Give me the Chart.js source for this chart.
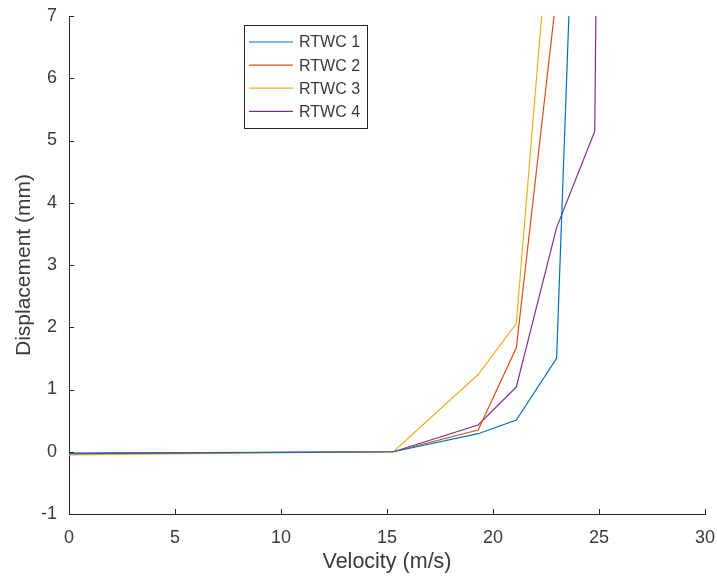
<!DOCTYPE html>
<html>
<head>
<meta charset="utf-8">
<script src="https://cdn.jsdelivr.net/npm/chart.js@4/dist/chart.umd.min.js"></script>
<style>
  html, body { margin: 0; padding: 0; background: #ffffff; }
  canvas { display: block; }
</style>
</head>
<body>
<canvas id="c" width="717" height="580"></canvas>
<script>
// ---- data ----
const seriesNames = ["RTWC 1", "RTWC 2", "RTWC 3", "RTWC 4"];
const seriesColors = ["#0072BD", "#D95319", "#EDB120", "#7E2F8E"];

const velocity1 = [0, 15.3, 19.3, 21.1, 23.0, 24.8];
const displacement1 = [-0.03, 0, 0.29, 0.51, 1.5, 18.6];

const velocity2 = [0, 15.3, 19.3, 21.1, 23.0];
const displacement2 = [-0.03, 0, 0.35, 1.67, 7.36];

const velocity3 = [0, 15.3, 19.3, 21.1, 23.0];
const displacement3 = [-0.05, 0, 1.24, 2.06, 9.93];

const velocity4 = [0, 15.3, 19.3, 21.1, 23.0, 24.8, 24.99];
const displacement4 = [-0.02, 0, 0.43, 1.04, 3.6, 5.15, 12];

const xTicks = [0, 5, 10, 15, 20, 25, 30];
const yTicks = [-1, 0, 1, 2, 3, 4, 5, 6, 7];
const xTitle = "Velocity (m/s)";
const yTitle = "Displacement (mm)";

// ---- build datasets ----
const vels = [velocity1, velocity2, velocity3, velocity4];
const disps = [displacement1, displacement2, displacement3, displacement4];
const datasets = seriesNames.map((name, i) => ({
  label: name,
  data: vels[i].map((v, j) => ({ x: v, y: disps[i][j] })),
  borderColor: seriesColors[i],
  backgroundColor: seriesColors[i],
  borderWidth: 1.2,
  pointRadius: 0,
  tension: 0,
  fill: false
}));

const AXIS_COLOR = "#262626";
const TEXT_COLOR = "#3a3a3a";
const FONT = "'Liberation Sans', Arial, Helvetica, sans-serif";

// inward tick marks (MATLAB style)
const inwardTicks = {
  id: "inwardTicks",
  afterDatasetsDraw(chart) {
    const ctx = chart.ctx;
    const xs = chart.scales.x, ys = chart.scales.y;
    const area = chart.chartArea;
    ctx.save();
    ctx.strokeStyle = AXIS_COLOR;
    ctx.lineWidth = 1;
    ctx.beginPath();
    xTicks.forEach(v => {
      const px = Math.round(xs.getPixelForValue(v)) + 0.5;
      ctx.moveTo(px, area.bottom);
      ctx.lineTo(px, area.bottom - 5);
    });
    yTicks.forEach(v => {
      const py = Math.round(ys.getPixelForValue(v)) + 0.5;
      ctx.moveTo(area.left, py);
      ctx.lineTo(area.left + 5, py);
    });
    ctx.stroke();
    ctx.restore();
  }
};

// MATLAB-style legend box
const legendBox = {
  id: "legendBox",
  afterDraw(chart) {
    const ctx = chart.ctx;
    const bx = 244.5, by = 25.5, bw = 123, bh = 103;
    ctx.save();
    ctx.fillStyle = "#ffffff";
    ctx.fillRect(bx, by, bw, bh);
    ctx.strokeStyle = AXIS_COLOR;
    ctx.lineWidth = 1;
    ctx.strokeRect(bx, by, bw, bh);
    ctx.font = "16px " + FONT;
    ctx.textBaseline = "middle";
    ctx.textAlign = "left";
    chart.data.datasets.forEach((ds, i) => {
      const y = 42 + i * 23.1;
      ctx.strokeStyle = ds.borderColor;
      ctx.lineWidth = 1.2;
      ctx.beginPath();
      ctx.moveTo(249, y);
      ctx.lineTo(293, y);
      ctx.stroke();
      ctx.fillStyle = TEXT_COLOR;
      ctx.fillText(ds.label, 299, y + 1);
    });
    ctx.restore();
  }
};

new Chart(document.getElementById("c"), {
  type: "line",
  data: { datasets },
  options: {
    responsive: false,
    animation: false,
    layout: { padding: { top: 16, right: 12, left: 0, bottom: 0 } },
    plugins: {
      legend: { display: false },
      tooltip: { enabled: false }
    },
    scales: {
      x: {
        type: "linear",
        min: 0,
        max: 30,
        afterFit(scale) { scale.height = 66; scale.paddingLeft = 0; scale.paddingRight = 0; },
        afterBuildTicks(scale) { scale.ticks = xTicks.map(v => ({ value: v })); },
        ticks: {
          color: TEXT_COLOR,
          font: { family: FONT, size: 18 },
          padding: 13,
          maxRotation: 0
        },
        grid: { drawOnChartArea: false, drawTicks: false },
        border: { display: true, color: AXIS_COLOR, width: 1 },
        title: {
          display: true,
          text: xTitle,
          color: TEXT_COLOR,
          font: { family: FONT, size: 21.5 },
          padding: { top: 0, bottom: 5 }
        }
      },
      y: {
        type: "linear",
        min: -1,
        max: 7,
        afterFit(scale) { scale.width = 69; scale.paddingTop = 0; scale.paddingBottom = 0; },
        afterBuildTicks(scale) { scale.ticks = yTicks.map(v => ({ value: v })); },
        ticks: {
          color: TEXT_COLOR,
          font: { family: FONT, size: 18 },
          padding: 12
        },
        grid: { drawOnChartArea: false, drawTicks: false },
        border: { display: true, color: AXIS_COLOR, width: 1 },
        title: {
          display: true,
          text: yTitle,
          color: TEXT_COLOR,
          font: { family: FONT, size: 21 },
          padding: { top: 12, bottom: 0 }
        }
      }
    }
  },
  plugins: [inwardTicks, legendBox]
});
</script>
</body>
</html>
